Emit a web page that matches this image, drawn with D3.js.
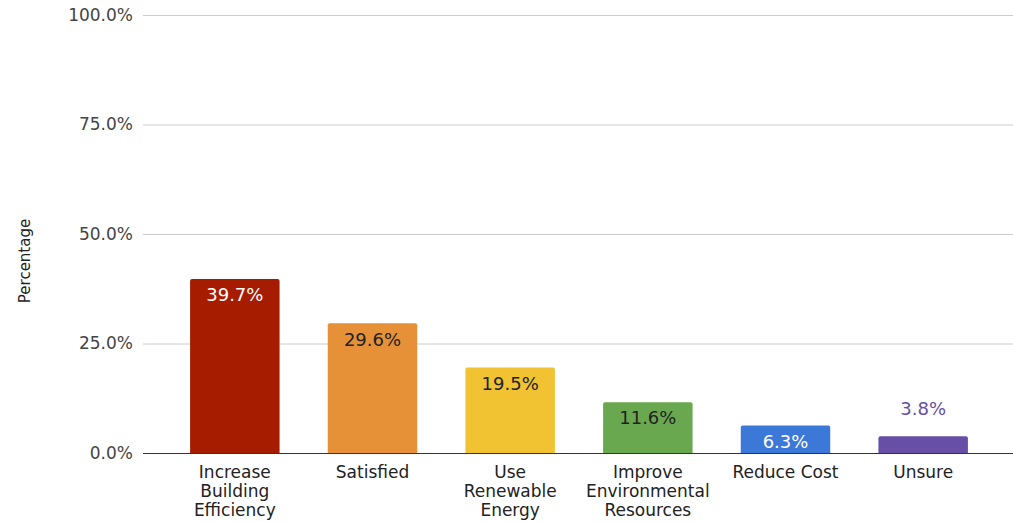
<!DOCTYPE html>
<meta charset="utf-8">
<style>
body { margin: 0; background: #fff; }
svg { display: block; font-family: "DejaVu Sans", "Open Sans", sans-serif; }
.grid line { stroke: #cccccc; stroke-width: 1px; }
.tick-label { font-size: 17px; fill: #444; }
.cat-label { font-size: 17px; fill: #222; }
.val-label { font-size: 18px; }
</style>
<svg width="1013" height="522"></svg>
<script src="https://d3js.org/d3.v7.min.js"></script>
<script>
var categories = [
    ["Increase", "Building", "Efficiency"],
    ["Satisfied"],
    ["Use", "Renewable", "Energy"],
    ["Improve", "Environmental", "Resources"],
    ["Reduce Cost"],
    ["Unsure"]
];
var values = [39.7, 29.6, 19.5, 11.6, 6.3, 3.8];
var colors = ["#a61c00", "#e69138", "#f1c232", "#6aa84f", "#3c78d8", "#674ea7"];
var labelColors = ["#ffffff", "#222222", "#222222", "#222222", "#ffffff", "#674ea7"];
var yTicks = [0, 25, 50, 75, 100];

var svg = d3.select("svg");

var x = d3.scaleBand()
    .domain(d3.range(values.length))
    .range([166, 992])
    .paddingInner(0.35)
    .paddingOuter(0.175);

var y = d3.scaleLinear().domain([0, 100]).range([453, 15]);

// gridlines
svg.append("g").attr("class", "grid")
    .selectAll("line")
    .data(yTicks.filter(function(d) { return d > 0; }))
    .enter().append("line")
    .attr("x1", 143).attr("x2", 1013)
    .attr("y1", function(d) { return y(d) + 0.5; })
    .attr("y2", function(d) { return y(d) + 0.5; });

svg.append("g")
    .selectAll("text")
    .data(yTicks)
    .enter().append("text")
    .attr("class", "tick-label")
    .attr("x", 133)
    .attr("y", function(d) { return y(d); })
    .attr("dy", "0.35em")
    .attr("text-anchor", "end")
    .text(function(d) { return d.toFixed(1) + "%"; });

svg.append("text")
    .attr("transform", "translate(30,261) rotate(-90)")
    .attr("text-anchor", "middle")
    .style("font-size", "15px")
    .style("fill", "#222")
    .text("Percentage");

// bars with rounded top
function barPath(i) {
    var x0 = x(i), w = x.bandwidth(), y0 = y(values[i]), y1 = y(0), r = 2;
    return "M" + x0 + "," + y1 +
        "V" + (y0 + r) +
        "Q" + x0 + "," + y0 + " " + (x0 + r) + "," + y0 +
        "H" + (x0 + w - r) +
        "Q" + (x0 + w) + "," + y0 + " " + (x0 + w) + "," + (y0 + r) +
        "V" + y1 + "Z";
}

svg.append("g")
    .selectAll("path")
    .data(values)
    .enter().append("path")
    .attr("d", function(d, i) { return barPath(i); })
    .attr("fill", function(d, i) { return colors[i]; });

svg.append("g")
    .selectAll("text")
    .data(values)
    .enter().append("text")
    .attr("class", "val-label")
    .attr("x", function(d, i) { return x(i) + x.bandwidth() / 2; })
    .attr("y", function(d, i) {
        return d < 5 ? y(d) - 28 : y(d) + 16;
    })
    .attr("dy", "0.35em")
    .attr("text-anchor", "middle")
    .attr("fill", function(d, i) { return labelColors[i]; })
    .text(function(d) { return d.toFixed(1) + "%"; });

// baseline
svg.append("line")
    .attr("x1", 143).attr("x2", 1013)
    .attr("y1", y(0) + 0.5).attr("y2", y(0) + 0.5)
    .attr("stroke", "#333").attr("stroke-width", 1.2);

// category labels
var cat = svg.append("g")
    .selectAll("text")
    .data(categories)
    .enter().append("text")
    .attr("class", "cat-label")
    .attr("text-anchor", "middle")
    .attr("x", function(d, i) { return x(i) + x.bandwidth() / 2; })
    .attr("y", 472);

cat.selectAll("tspan")
    .data(function(d) { return d; })
    .enter().append("tspan")
    .attr("x", function() { return d3.select(this.parentNode).attr("x"); })
    .attr("dy", function(d, j) { return j === 0 ? "0.35em" : "19px"; })
    .text(function(d) { return d; });
</script>
